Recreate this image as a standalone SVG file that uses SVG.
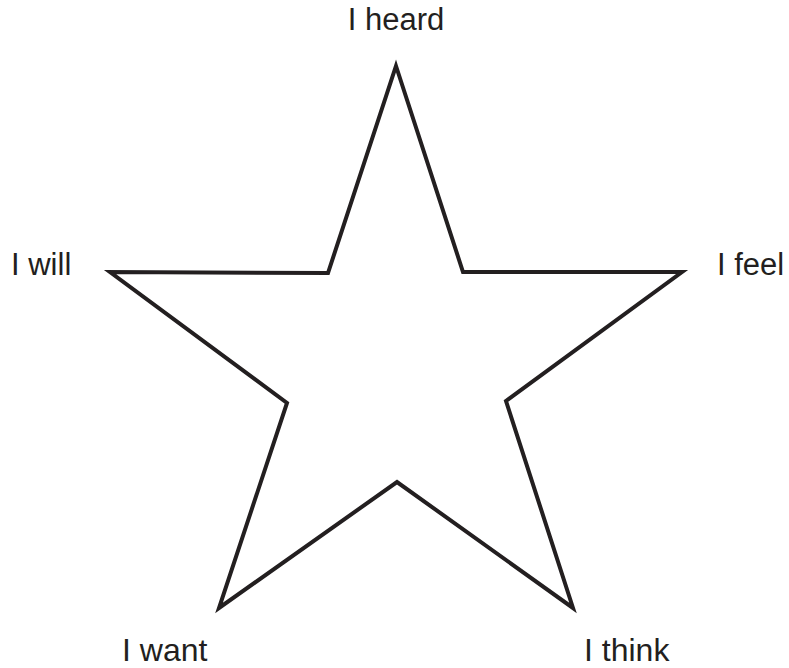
<svg xmlns="http://www.w3.org/2000/svg" width="789" height="668" viewBox="0 0 789 668">
<style>
.lbl{font-family:"Liberation Sans",Arial,sans-serif;font-size:31px;fill:#231f20}
.big{font-size:32px}
.star{fill:#fff;stroke:#231f20;stroke-width:4;stroke-linejoin:miter;stroke-miterlimit:10}
</style>
<rect width="789" height="668" fill="#fff"/>
<g id="star">
<polygon class="star" points="396,66 463,272 682,272 506,401 573,608 397,482 219,608 287,403 110,272 328,273"/>
</g>
<g id="label-heard"><text class="lbl" x="396" y="30" text-anchor="middle">I heard</text></g>
<g id="label-will"><text class="lbl" x="11" y="275">I will</text></g>
<g id="label-feel"><text class="lbl" x="717" y="275">I feel</text></g>
<g id="label-want"><text class="lbl big" x="122" y="661">I want</text></g>
<g id="label-think"><text class="lbl big" x="584" y="661">I think</text></g>
</svg>
